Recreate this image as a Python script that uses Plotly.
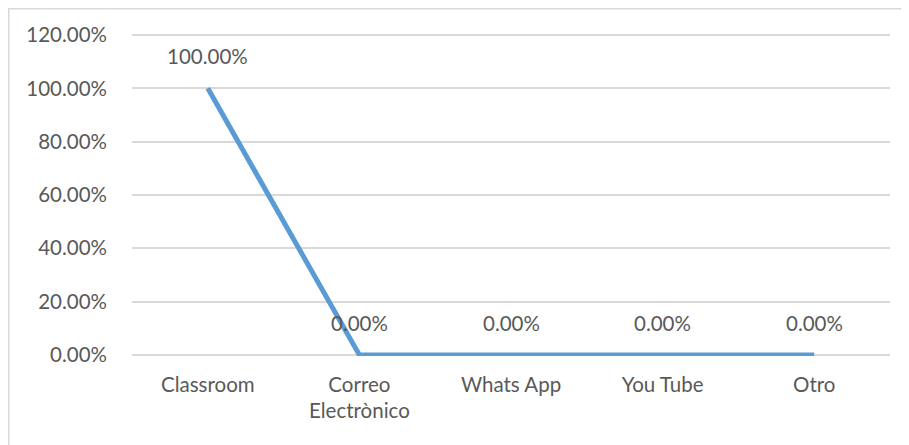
import plotly.graph_objects as go

categories = ["Classroom", "Correo<br>Electrònico", "Whats App", "You Tube", "Otro"]
values = [1.0, 0.0, 0.0, 0.0, 0.0]
value_labels = ["100.00%", "0.00%", "0.00%", "0.00%", "0.00%"]
y_ticks = [0, 0.2, 0.4, 0.6, 0.8, 1.0, 1.2]
y_tick_labels = ["0.00%", "20.00%", "40.00%", "60.00%", "80.00%", "100.00%", "120.00%"]

FONT = "Lato"
TXT = "#595959"
FS = 20.5

fig = go.Figure()
fig.add_trace(go.Scatter(
    x=categories, y=values, mode="lines",
    line=dict(color="#5b9bd5", width=5),
    hoverinfo="skip", showlegend=False,
))

for c, v, t in zip(categories, values, value_labels):
    fig.add_annotation(x=c, y=v, text=t, showarrow=False, yshift=32,
                       font=dict(family=FONT, size=FS, color=TXT))

W, H = 909, 445
L, R, T, B = 124, 27, 25, 97
pw, ph = W - L - R, H - T - B
fig.add_shape(type="rect", xref="paper", yref="paper",
              x0=(0.5 - L) / pw, x1=(W + 20 - L) / pw,
              y0=-(H + 20 - T - ph) / ph, y1=(H - B - 0.5) / ph,
              line=dict(color="#d9d9d9", width=2), fillcolor="rgba(0,0,0,0)", layer="below")

fig.update_layout(
    width=W, height=H,
    margin=dict(l=L, r=R, t=T, b=B),
    paper_bgcolor="white", plot_bgcolor="white",
    font=dict(family=FONT, size=FS, color=TXT),
    xaxis=dict(type="category", range=[-0.5, len(categories) - 0.5],
               showgrid=False, showline=False, zeroline=False, ticks="",
               ticklabelstandoff=14,
               tickfont=dict(family=FONT, size=FS, color=TXT), fixedrange=True),
    yaxis=dict(range=[-0.004, 1.2075], tickvals=y_ticks, ticktext=y_tick_labels,
               showgrid=True, gridcolor="#d9d9d9", gridwidth=1.5,
               zeroline=False, showline=False, ticks="", ticklabelstandoff=24,
               tickfont=dict(family=FONT, size=FS, color=TXT)),
)

fig.write_html("out.html")
